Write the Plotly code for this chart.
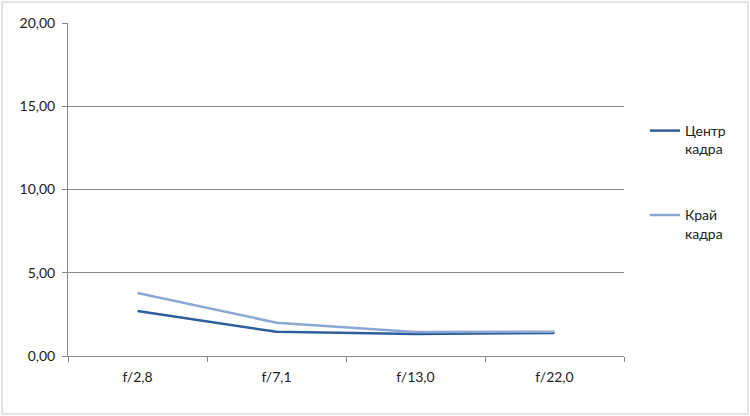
import plotly.graph_objects as go

categories = ["f/2,8", "f/7,1", "f/13,0", "f/22,0"]
center_values = [2.70, 1.45, 1.32, 1.38]
edge_values = [3.78, 2.00, 1.44, 1.46]
series_names = ["Центр<br>кадра", "Край<br>кадра"]
y_ticks = [0, 5, 10, 15, 20]

W, H = 750, 416
L, R, T, B = 68, 126, 23, 60
pw, ph = W - L - R, H - T - B

fig = go.Figure()
fig.add_trace(go.Scatter(x=categories, y=center_values, mode="lines", name=series_names[0],
                         line=dict(color="#2F5E9C", width=2.5), legendgroup="a"))
fig.add_trace(go.Scatter(x=categories, y=edge_values, mode="lines", name=series_names[1],
                         line=dict(color="#8DA7D2", width=2.5), legendgroup="b"))

fig.update_layout(
    width=W, height=H,
    margin=dict(l=L, r=R, t=T, b=B, autoexpand=False),
    paper_bgcolor="white", plot_bgcolor="white",
    separators=", ",
    font=dict(family="Lato, 'Open Sans', sans-serif", size=14, color="#222222"),
    showlegend=True,
    legend=dict(x=(645 - L) / pw, y=1 - (115 - T) / ph, xanchor="left", yanchor="top",
                traceorder="grouped", tracegroupgap=45, valign="top",
                font=dict(size=14, color="#222222"), itemwidth=30,
                bgcolor="rgba(0,0,0,0)"),
    xaxis=dict(type="category", range=[-0.5, 3.5], showgrid=False, showline=True,
               linecolor="#888888", linewidth=1, automargin=False,
               ticks="outside", ticklen=5, tickcolor="#888888", tickson="boundaries",
               tickfont=dict(size=14), zeroline=False, ticklabelstandoff=8),
    yaxis=dict(range=[0, 20], tickvals=y_ticks, tickformat=".2f", showgrid=True, automargin=False,
               gridcolor="#888888", gridwidth=1, showline=True, linecolor="#888888", linewidth=1,
               ticks="outside", ticklen=5, tickcolor="#888888", zeroline=False,
               tickfont=dict(size=14), ticklabelstandoff=4),
)

fig.add_shape(type="rect", xref="paper", yref="paper",
              x0=-(L - 2) / pw, x1=(W - L - 2) / pw,
              y0=-(B - 2) / ph, y1=1 + (T - 2) / ph,
              line=dict(color="#C8C8C8", width=1), layer="below")

fig.write_html("out.html", config={"displayModeBar": False},
               post_script="document.body.style.margin='0';document.body.style.padding='0';")
